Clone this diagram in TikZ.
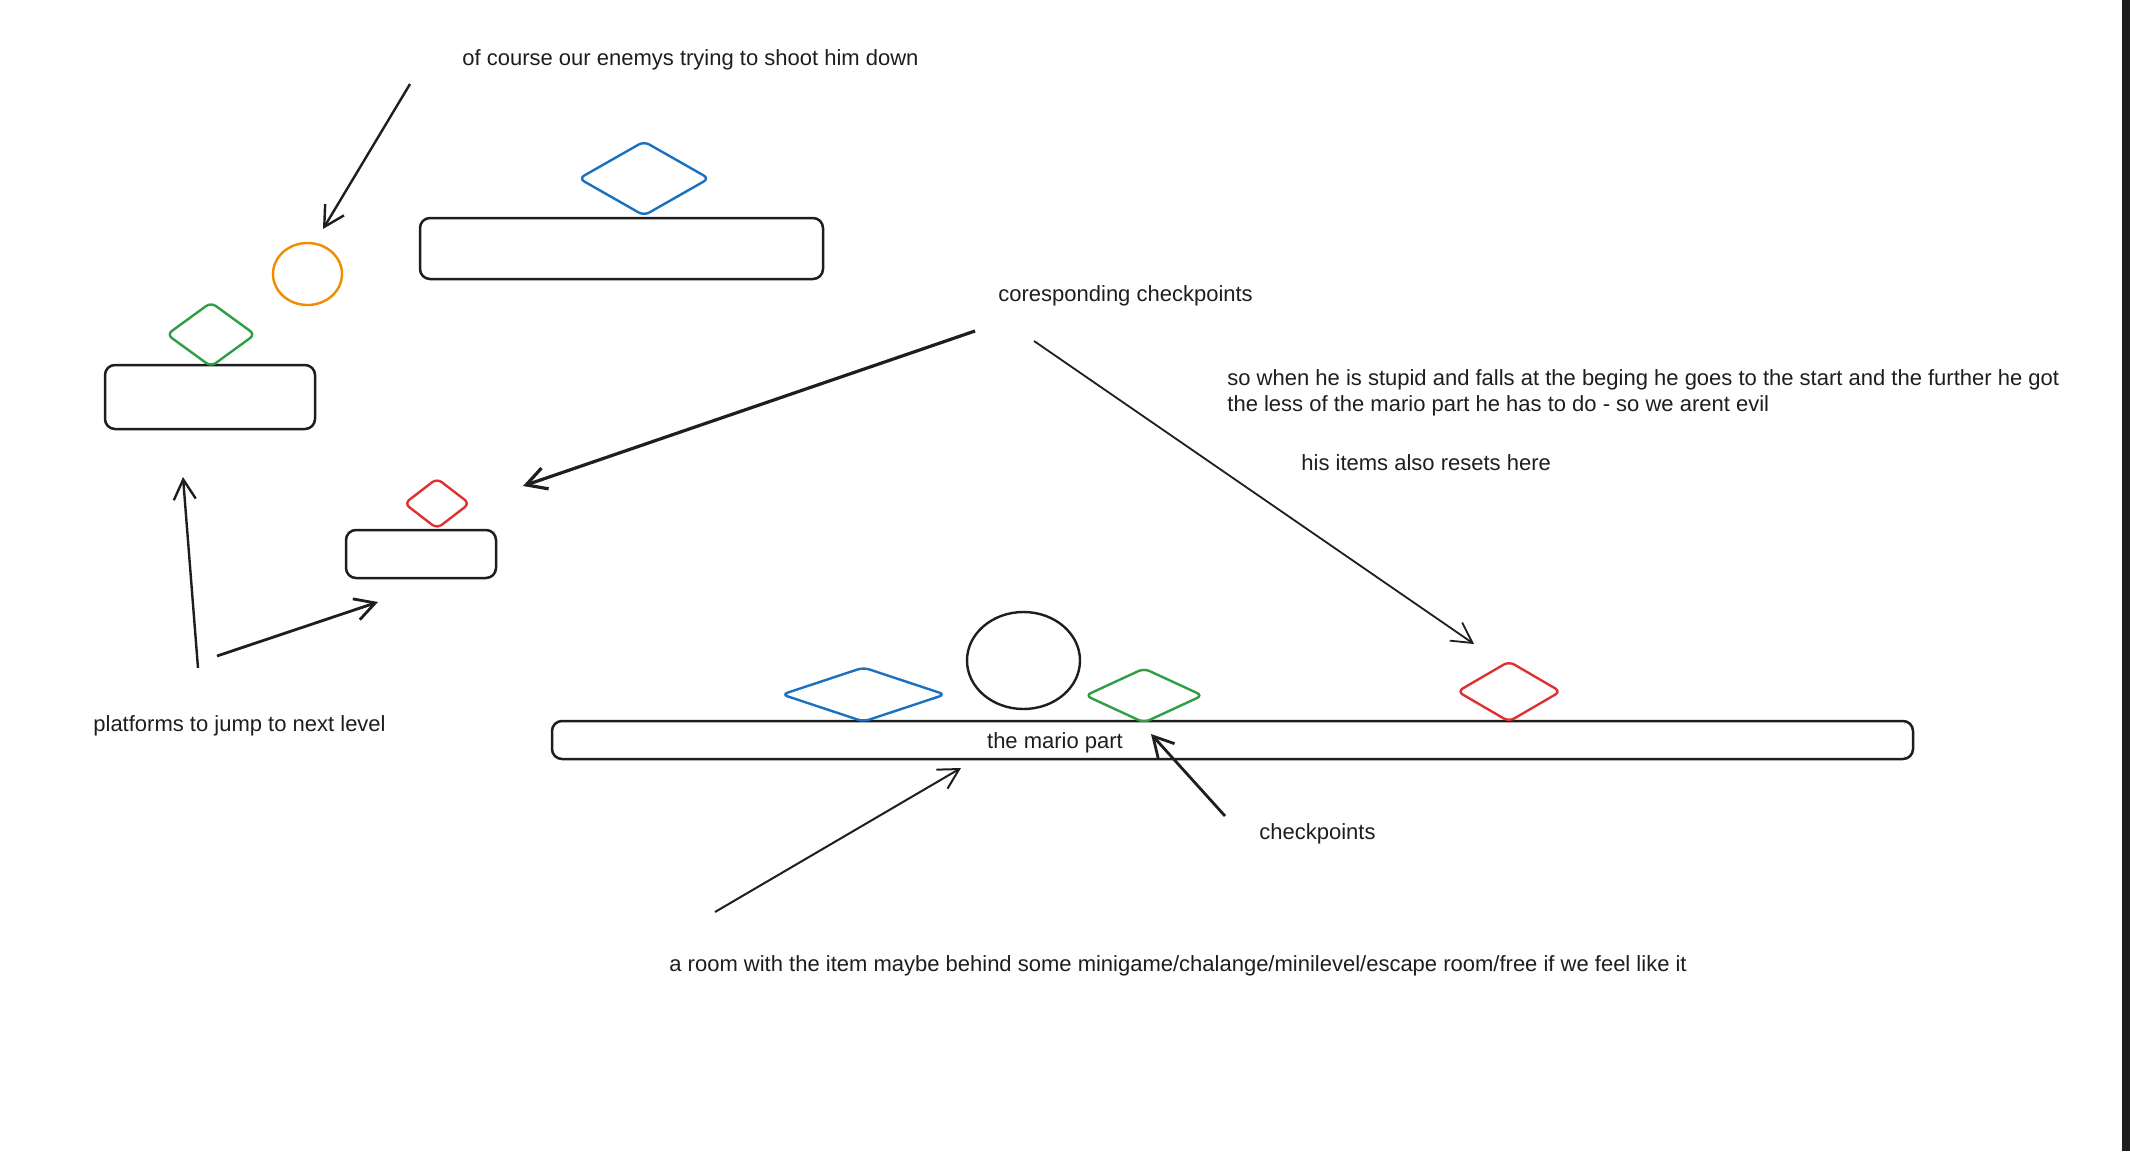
\documentclass[tikz,border=0pt]{standalone}
\usepackage{fontspec}
\setmainfont{Liberation Sans}
\usetikzlibrary{arrows.meta,shapes.geometric}
\definecolor{ink}{HTML}{1E1E1E}
\definecolor{cblue}{HTML}{1971C2}
\definecolor{cgreen}{HTML}{2F9E44}
\definecolor{cred}{HTML}{E03131}
\definecolor{corange}{HTML}{F08C00}
\begin{document}
\begin{tikzpicture}[x=0.5pt,y=-0.5pt,
  plat/.style={draw=ink,line width=1.25pt,rounded corners=5pt,inner sep=0pt,rectangle},
  gem/.style={draw=#1,line width=1.2pt,shape=diamond,rounded corners=3pt,inner sep=0pt},
  ball/.style={draw=#1,line width=1.2pt,shape=ellipse,inner sep=0pt},
  lbl/.style={text=ink,inner sep=0pt,font=\fontsize{11pt}{12.9pt}\selectfont},
  arr/.style={draw=ink,line width=1.2pt,-{Straight Barb[length=10pt,width=11pt]}},
]
\useasboundingbox (0,0) rectangle (2130,1151);
\fill[white] (0,0) rectangle (2130,1151);
\fill[ink] (2122,0) rectangle (2130,1151);

% platforms
\node[plat,minimum width=201.5pt,minimum height=30.5pt] (ptop) at (621.5,248.5) {};
\node[plat,minimum width=105pt,minimum height=32pt] (pleft) at (210,397) {};
\node[plat,minimum width=75pt,minimum height=24pt] (psmall) at (421,554) {};
\node[plat,minimum width=680.5pt,minimum height=19pt] (mario) at (1232.5,740) {};
\node[lbl] (mariotxt) at (1055,743) {the mario part};

% gems
\node[gem=cblue,minimum width=65.5pt,minimum height=37.5pt] (gblue1) at (644,178.5) {};
\node[gem=cgreen,minimum width=44.5pt,minimum height=32.5pt] (ggreen1) at (211,334.5) {};
\node[gem=cred,minimum width=33pt,minimum height=25.5pt] (gred1) at (437,503.5) {};
\node[gem=cblue,minimum width=82pt,minimum height=27.5pt] (gblue2) at (863.5,694.5) {};
\node[gem=cgreen,minimum width=59pt,minimum height=27.5pt] (ggreen2) at (1144,695.5) {};
\node[gem=cred,minimum width=52pt,minimum height=30.5pt] (gred2) at (1509,691.5) {};

% balls
\node[ball=corange,minimum width=34.5pt,minimum height=31pt] (enemy) at (307.5,274) {};
\node[ball=ink,minimum width=56.5pt,minimum height=48.5pt] (player) at (1023.5,660.5) {};

% labels
\node[lbl,anchor=west] (tenemy) at (462,60) {of course our enemys trying to shoot him down};
\node[lbl,anchor=west] (tcorr) at (998,296) {coresponding checkpoints};
\node[lbl,anchor=west,align=left] (tstupid) at (1227,393) {so when he is stupid and falls at the beging he goes to the start and the further he got\\the less of the mario part he has to do - so we arent evil};
\node[lbl,anchor=west] (titems) at (1301,463) {his items also resets here};
\node[lbl,anchor=west] (tplat) at (93,726) {platforms to jump to next level};
\node[lbl,anchor=west] (tcheck) at (1259,834) {checkpoints};
\node[lbl,anchor=west] (troom) at (669,966) {a room with the item maybe behind some minigame/chalange/minilevel/escape room/free if we feel like it};

% connector end points
\coordinate (a1s) at (410,84);   \coordinate (a1e) at (323,229);
\coordinate (a2s) at (198,668);  \coordinate (a2e) at (183,477);
\coordinate (a3s) at (217,656);  \coordinate (a3e) at (378,602);
\coordinate (a4s) at (975,331);  \coordinate (a4e) at (523,486);
\coordinate (a5s) at (1034,341); \coordinate (a5e) at (1474,644);
\coordinate (a6s) at (1225,816); \coordinate (a6e) at (1151,734);
\coordinate (a7s) at (715,912);  \coordinate (a7e) at (961,768);

\draw[arr] (a1s) -- (a1e);
\draw[arr] (a2s) -- (a2e);
\draw[arr,line width=1.4pt] (a3s) -- (a3e);
\draw[arr,line width=1.6pt] (a4s) -- (a4e);
\draw[arr,line width=0.9pt] (a5s) -- (a5e);
\draw[arr,line width=1.4pt] (a6s) -- (a6e);
\draw[arr,line width=1pt] (a7s) -- (a7e);
\end{tikzpicture}
\end{document}
